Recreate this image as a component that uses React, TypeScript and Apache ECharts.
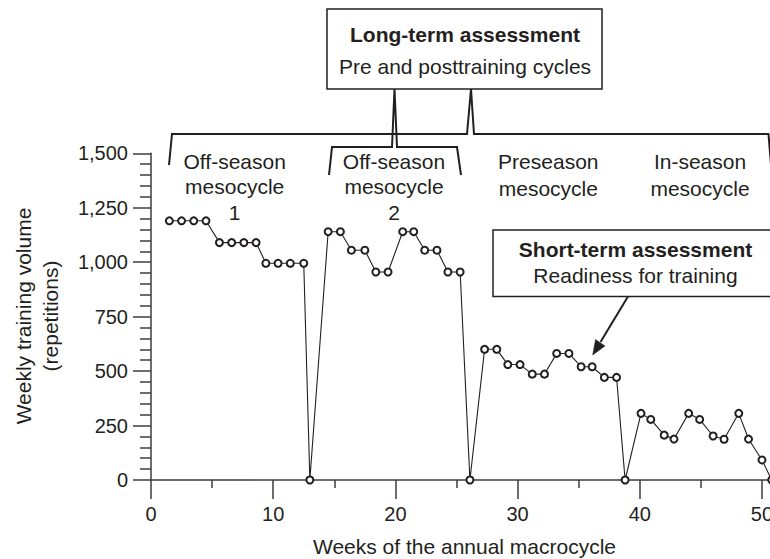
import React, { useEffect, useRef } from "react";
import * as echarts from "echarts";

// Week positions (as drawn) and weekly training volume (repetitions)
const weeks = [
  1.5, 2.5, 3.5, 4.5, 5.6, 6.6, 7.6, 8.6, 9.4, 10.4, 11.4, 12.5,
  13.0,
  14.5, 15.5, 16.4, 17.5, 18.4, 19.4, 20.6, 21.5, 22.4, 23.4, 24.3, 25.3,
  26.1,
  27.3, 28.3, 29.2, 30.2, 31.2, 32.2, 33.2, 34.2, 35.2, 36.1, 37.1, 38.1,
  38.8,
  40.1, 40.9, 42.0, 42.8, 44.0, 44.9, 46.0, 46.9, 48.1, 48.9, 50.0,
  50.8,
];
const volume = [
  1190, 1190, 1190, 1190, 1090, 1090, 1090, 1090, 995, 995, 995, 995,
  0,
  1140, 1140, 1055, 1055, 955, 955, 1140, 1140, 1055, 1055, 955, 955,
  0,
  600, 600, 530, 530, 486, 486, 581, 581, 520, 520, 471, 471,
  0,
  306, 278, 206, 188, 306, 278, 202, 187, 306, 188, 92,
  0,
];

const mesocycleLabels = [
  "Off-season\nmesocycle\n1",
  "Off-season\nmesocycle\n2",
  "Preseason\nmesocycle",
  "In-season\nmesocycle",
];
const longTermTitle = "Long-term assessment";
const longTermSub = "Pre and posttraining cycles";
const shortTermTitle = "Short-term assessment";
const shortTermSub = "Readiness for training";
const xAxisTitle = "Weeks of the annual macrocycle";
const yAxisTitle = "Weekly training volume\n(repetitions)";

const INK = "#231f20";
const AXIS = "#3c3c3c";
const FONT = '"Liberation Sans", Arial, Helvetica, sans-serif';

function txt(
  text: string,
  x: number,
  y: number,
  opts: { size?: number; weight?: string; align?: string; vAlign?: string; lineHeight?: number; rotation?: number } = {}
) {
  const size = opts.size ?? 21;
  const align = opts.align ?? "center";
  const vAlign = opts.vAlign ?? "middle";
  return {
    type: "text",
    x,
    y,
    rotation: opts.rotation ?? 0,
    z: 10,
    style: {
      text,
      fill: INK,
      fontSize: size,
      fontFamily: FONT,
      fontWeight: opts.weight ?? "normal",
      textAlign: align,
      align,
      textVerticalAlign: vAlign,
      verticalAlign: vAlign,
      lineHeight: opts.lineHeight ?? size * 1.2,
    },
  };
}

export default function App() {
  const ref = useRef<HTMLDivElement>(null);

  useEffect(() => {
    if (!ref.current) return;
    const chart = echarts.init(ref.current, undefined, { renderer: "svg" });
    const data = weeks.map((w, i) => [w, volume[i]]);

    const option: any = {
      animation: false,
      backgroundColor: "#ffffff",
      grid: {
        left: 151,
        top: 153.3,
        width: 629.3,
        height: 326.7,
        containLabel: false,
        outerBoundsMode: "none",
      },
      xAxis: {
        type: "value",
        min: 0,
        max: 51.5,
        interval: 10,
        splitLine: { show: false },
        axisLine: { show: true, onZero: false, lineStyle: { color: AXIS, width: 1.5 } },
        axisTick: { show: true, inside: false, length: 19, lineStyle: { color: AXIS, width: 1.5 } },
        minorTick: { show: true, splitNumber: 2, length: 8, lineStyle: { color: AXIS, width: 1.5 } },
        axisLabel: {
          show: true,
          margin: 24,
          showMaxLabel: false,
          color: INK,
          fontSize: 20,
          fontFamily: FONT,
        },
      },
      yAxis: {
        type: "value",
        min: 0,
        max: 1500,
        interval: 250,
        splitLine: { show: false },
        axisLine: { show: true, onZero: false, lineStyle: { color: AXIS, width: 1.5 } },
        axisTick: { show: true, inside: false, length: 18, lineStyle: { color: AXIS, width: 1.5 } },
        minorTick: { show: true, splitNumber: 5, length: 11, lineStyle: { color: AXIS, width: 1.5 } },
        axisLabel: {
          show: true,
          margin: 23,
          color: INK,
          fontSize: 20,
          fontFamily: FONT,
          formatter: (v: number) => v.toLocaleString("en-US"),
        },
      },
      series: [
        {
          type: "line",
          data,
          symbol: "circle",
          symbolSize: 7,
          showSymbol: true,
          clip: true,
          z: 5,
          lineStyle: { color: INK, width: 1.1 },
          itemStyle: { color: "#ffffff", borderColor: INK, borderWidth: 2 },
        },
      ],
      graphic: [
        // axis titles
        txt(xAxisTitle, 464.5, 546),
        txt(yAxisTitle, 36.5, 316, { rotation: Math.PI / 2, lineHeight: 27 }),
        // mesocycle labels
        txt(mesocycleLabels[0], 234.7, 148.7, { vAlign: "top", lineHeight: 25.5 }),
        txt(mesocycleLabels[1], 394, 148.7, { vAlign: "top", lineHeight: 25.5 }),
        txt(mesocycleLabels[2], 548.3, 147.7, { vAlign: "top", lineHeight: 27 }),
        txt(mesocycleLabels[3], 700, 147.7, { vAlign: "top", lineHeight: 27 }),
        // long-term brackets
        {
          type: "polyline",
          z: 8,
          shape: {
            points: [
              [169, 165], [172, 134], [467, 134], [471, 89], [474, 134], [768.5, 134], [771, 165],
            ],
          },
          style: { stroke: INK, lineWidth: 2, fill: null },
        },
        {
          type: "polyline",
          z: 8,
          shape: {
            points: [
              [329, 175], [332, 147], [392, 147], [394.5, 89], [397, 147], [457, 147], [461, 175],
            ],
          },
          style: { stroke: INK, lineWidth: 2, fill: null },
        },
        // long-term box
        {
          type: "rect",
          z: 9,
          shape: { x: 327, y: 9, width: 275, height: 80 },
          style: { fill: "#ffffff", stroke: INK, lineWidth: 1.5 },
        },
        txt(longTermTitle, 465, 34, { weight: "bold" }),
        txt(longTermSub, 465, 66),
        // short-term box
        {
          type: "rect",
          z: 9,
          shape: { x: 493, y: 230, width: 285, height: 66.5 },
          style: { fill: "#ffffff", stroke: INK, lineWidth: 1.5 },
        },
        txt(shortTermTitle, 635.5, 249, { weight: "bold" }),
        txt(shortTermSub, 635.5, 275),
        // arrow
        {
          type: "line",
          z: 9,
          shape: { x1: 628, y1: 296.5, x2: 600.5, y2: 342 },
          style: { stroke: INK, lineWidth: 2 },
        },
        {
          type: "polygon",
          z: 9,
          shape: { points: [[592.7, 355], [605, 346], [595.5, 339.5]] },
          style: { fill: INK, stroke: INK, lineWidth: 0.5 },
        },
      ],
    };

    chart.setOption(option);
    return () => {
      chart.dispose();
    };
  }, []);

  return (
    <div
      style={{
        position: "fixed",
        left: 0,
        top: 0,
        width: 770,
        height: 559,
        overflow: "hidden",
        background: "#ffffff",
      }}
    >
      <div ref={ref} style={{ width: 800, height: 559 }} />
    </div>
  );
}
